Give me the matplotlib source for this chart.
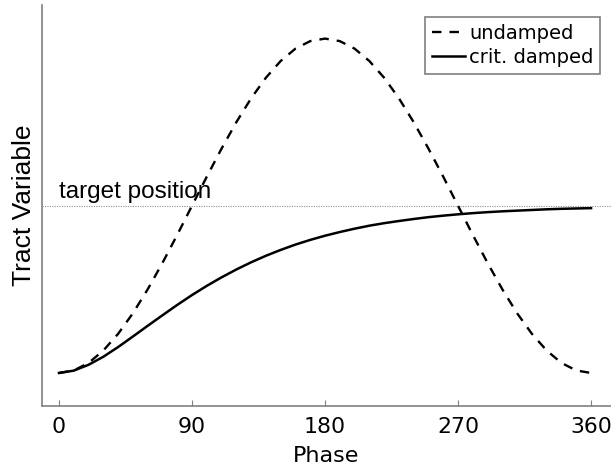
import matplotlib
matplotlib.use("Agg")
import matplotlib.pyplot as plt

# phase in degrees, sampled every 10
phase = list(range(0, 361, 10))

# undamped oscillator: rises to twice the target and returns
undamped = [0.000, 0.015, 0.060, 0.134, 0.234, 0.357, 0.500, 0.658, 0.826,
            1.000, 1.174, 1.342, 1.500, 1.643, 1.766, 1.866, 1.940, 1.985,
            2.000, 1.985, 1.940, 1.866, 1.766, 1.643, 1.500, 1.342, 1.174,
            1.000, 0.826, 0.658, 0.500, 0.357, 0.234, 0.134, 0.060, 0.015,
            0.000]

# critically damped: approaches the target without overshoot
crit_damped = [0.000, 0.014, 0.049, 0.097, 0.155, 0.218, 0.282, 0.345, 0.407,
               0.466, 0.521, 0.572, 0.619, 0.662, 0.701, 0.736, 0.768, 0.796,
               0.821, 0.843, 0.863, 0.881, 0.896, 0.909, 0.921, 0.932, 0.941,
               0.949, 0.956, 0.962, 0.967, 0.971, 0.975, 0.979, 0.982, 0.984,
               0.986]

target = 1.0
xticks = [0, 90, 180, 270, 360]

fig = plt.figure(figsize=(6.11, 4.70), dpi=100)
ax = fig.add_axes([0.0687, 0.136, 0.9313, 0.853])

ax.axhline(target, color='#909090', lw=0.8, ls=(0, (1, 1.2)), zorder=1)
ax.plot(phase, undamped, color='black', lw=1.7, ls=(0, (4.0, 3.4)),
        label='undamped')
ax.plot(phase, crit_damped, color='black', lw=1.8, label='crit. damped')

ax.text(0, target + 0.015, 'target position', fontsize=17.5,
        family='Liberation Sans', va='bottom', ha='left')

ax.set_xlim(-11.5, 373.5)
ax.set_ylim(-0.198, 2.2)
ax.set_xticks(xticks)
ax.set_yticks([])
ax.tick_params(axis='x', direction='in', length=4.5, width=0.8,
               color='#808080', labelsize=15.8, pad=8)

for side in ['top', 'right']:
    ax.spines[side].set_visible(False)
for side in ['left', 'bottom']:
    ax.spines[side].set_color('#808080')
    ax.spines[side].set_linewidth(1.2)

ax.set_xlabel('Phase', fontsize=16, labelpad=6)
ax.set_ylabel('Tract Variable', fontsize=19, family='Liberation Sans',
              labelpad=4)

leg = ax.legend(loc='upper right', bbox_to_anchor=(0.981, 0.97),
                fontsize=14, handlelength=1.7, handletextpad=0.2,
                borderpad=0.35, labelspacing=0.25, fancybox=False,
                framealpha=1, borderaxespad=0)
leg.get_frame().set_edgecolor('#808080')
leg.get_frame().set_linewidth(1.2)

fig.savefig('out.png', dpi=100)
